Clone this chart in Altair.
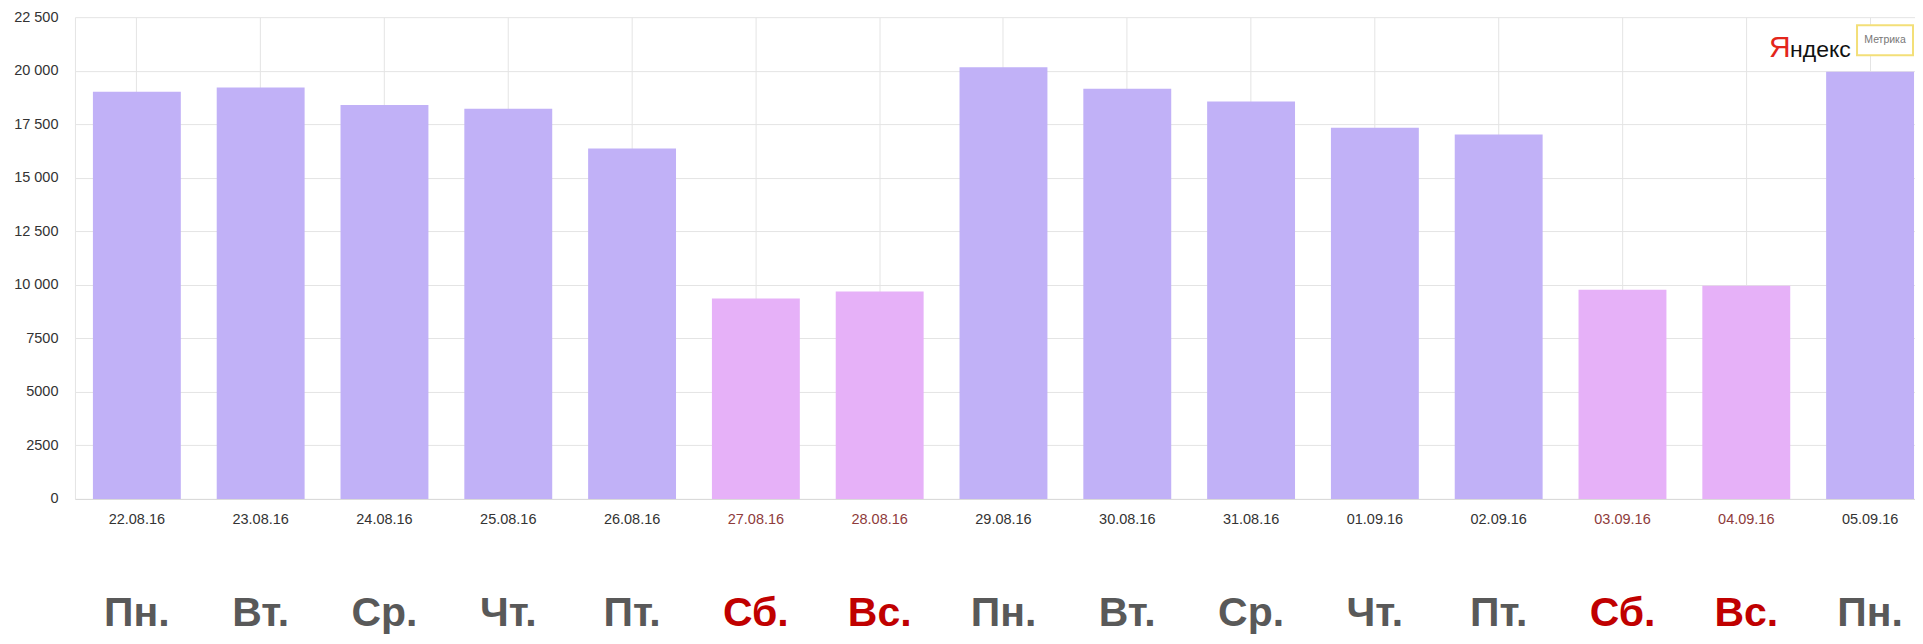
import altair as alt
import pandas as pd

# ---- data ----
dates = ["22.08.16", "23.08.16", "24.08.16", "25.08.16", "26.08.16", "27.08.16", "28.08.16",
         "29.08.16", "30.08.16", "31.08.16", "01.09.16", "02.09.16", "03.09.16", "04.09.16", "05.09.16"]
weekdays = ["Пн.", "Вт.", "Ср.", "Чт.", "Пт.", "Сб.", "Вс.",
            "Пн.", "Вт.", "Ср.", "Чт.", "Пт.", "Сб.", "Вс.", "Пн."]
visits = [19020, 19220, 18400, 18220, 16360, 9360, 9690,
          20160, 19160, 18560, 17340, 17020, 9770, 9950, 19950]
y_ticks = [0, 2500, 5000, 7500, 10000, 12500, 15000, 17500, 20000, 22500]
weekend_days = ["Сб.", "Вс."]

df = pd.DataFrame({"date": dates, "day": weekdays, "visits": visits})
df["kind"] = ["weekend" if d in weekend_days else "weekday" for d in weekdays]
weekend_dates = [d for d, w in zip(dates, weekdays) if w in weekend_days]
weekend_test = " || ".join(f"datum.value === '{d}'" for d in weekend_dates)

FONT = "Liberation Sans"
GRID = "#e4e4e4"

x_enc = alt.X(
    "date:N", sort=dates,
    scale=alt.Scale(range=[0, 1858], paddingInner=0.29, paddingOuter=0.145),
    axis=alt.Axis(
        title=None, labelAngle=0, labelFont=FONT, labelFontSize=14.5,
        labelColor={"condition": {"test": weekend_test, "value": "#8e3b3b"}, "value": "#333333"},
        labelPadding=14, ticks=False, domainColor="#d9d9d9", grid=True, gridColor=GRID,
    ),
)
y_enc = alt.Y(
    "visits:Q",
    scale=alt.Scale(domain=[0, 22500], nice=False),
    axis=alt.Axis(
        title=None, values=y_ticks, ticks=False, labelFont=FONT, labelFontSize=14.5,
        labelColor="#333333", labelPadding=17, domainColor=GRID, gridColor=GRID,
        labelExpr="datum.value >= 10000 ? replace(format(datum.value, ','), ',', ' ') : format(datum.value, 'd')",
    ),
)

bars = alt.Chart(df).mark_bar().encode(
    x=x_enc, y=y_enc,
    color=alt.condition(alt.datum.kind == "weekend", alt.value("#e6b1f8"), alt.value("#c1b1f7")),
)

days = alt.Chart(df).mark_text(
    font=FONT, fontSize=41, fontWeight="bold", baseline="alphabetic"
).encode(
    x=alt.X("date:N", sort=dates),
    y=alt.value(609),
    text="day:N",
    color=alt.condition(alt.datum.kind == "weekend", alt.value("#c00000"), alt.value("#595959")),
)

box = alt.Chart(pd.DataFrame({"t": ["Метрика"]})).mark_rect(
    fill="white", stroke="#f3df78", strokeWidth=2
).encode(x=alt.value(1783), x2=alt.value(1839), y=alt.value(8), y2=alt.value(38))

box_text = alt.Chart(pd.DataFrame({"t": ["Метрика"]})).mark_text(
    font=FONT, fontSize=10.5, color="#777777", align="center", baseline="middle"
).encode(text="t:N", x=alt.value(1811), y=alt.value(23))

ya = alt.Chart(pd.DataFrame({"t": ["Я"]})).mark_text(
    font=FONT, fontSize=30, color="#e3261b", align="left", baseline="alphabetic"
).encode(text="t:N", x=alt.value(1695), y=alt.value(40))

ndeks = alt.Chart(pd.DataFrame({"t": ["ндекс"]})).mark_text(
    font=FONT, fontSize=23, color="#111111", align="left", baseline="alphabetic"
).encode(text="t:N", x=alt.value(1716), y=alt.value(40))

chart = alt.layer(bars, days, box, box_text, ya, ndeks).properties(
    width=1841, height=482,
    autosize=alt.AutoSizeParams(type="none"),
    padding={"left": 67, "top": 9, "right": 0, "bottom": 137},
    background="white",
).configure_view(stroke=None)

chart.save("out.html", embed_options={"renderer": "svg", "actions": False})
